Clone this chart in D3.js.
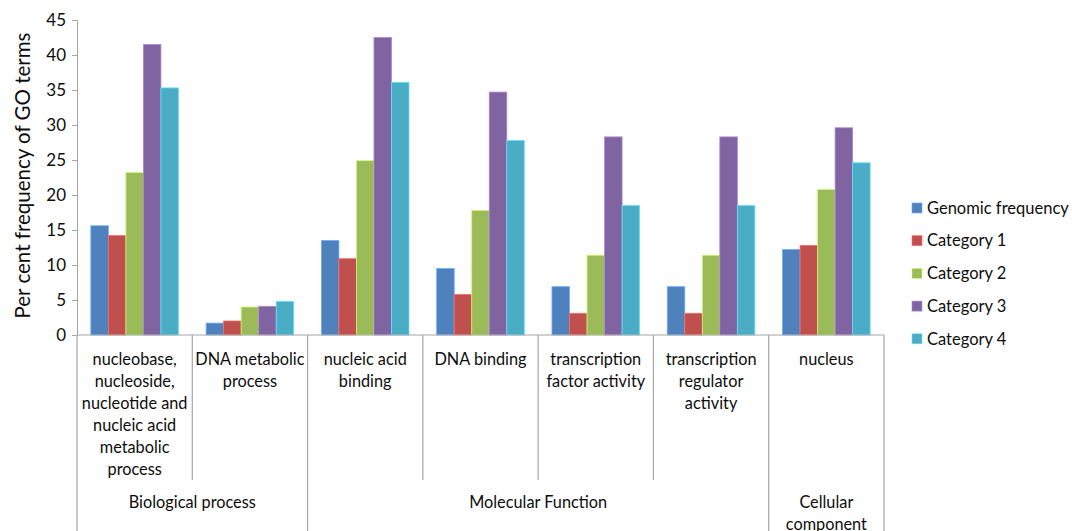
<!DOCTYPE html>
<html>
<head>
<meta charset="utf-8">
<script src="https://cdn.jsdelivr.net/npm/d3@7"></script>
<style>
  html, body { margin: 0; padding: 0; background: #fff; }
  svg text { font-family: Lato, "Open Sans", sans-serif; fill: #0d0d0d; }
</style>
</head>
<body>
<svg id="chart" width="1072" height="531"></svg>
<script>
// GO term categories (multi-line labels) and their parent groups
const categories = [
  ["nucleobase,", "nucleoside,", "nucleotide and", "nucleic acid", "metabolic", "process"],
  ["DNA metabolic", "process"],
  ["nucleic acid", "binding"],
  ["DNA binding"],
  ["transcription", "factor activity"],
  ["transcription", "regulator", "activity"],
  ["nucleus"]
];
const groups = [
  { name: ["Biological process"], from: 0, to: 1 },
  { name: ["Molecular Function"], from: 2, to: 5 },
  { name: ["Cellular", "component"], from: 6, to: 6 }
];
const seriesNames = ["Genomic frequency", "Category 1", "Category 2", "Category 3", "Category 4"];
const seriesColors = ["#4F81BD", "#C0504D", "#9BBB59", "#8064A2", "#4BACC6"];

// per cent frequency, one array per series, in category order
const genomic   = [15.6, 1.7, 13.5, 9.5, 6.9, 6.9, 12.2];
const category1 = [14.2, 2.0, 10.9, 5.8, 3.1, 3.1, 12.8];
const category2 = [23.2, 4.0, 24.9, 17.8, 11.4, 11.4, 20.8];
const category3 = [41.5, 4.1, 42.5, 34.7, 28.3, 28.3, 29.6];
const category4 = [35.3, 4.8, 36.1, 27.8, 18.5, 18.5, 24.6];
const seriesValues = [genomic, category1, category2, category3, category4];

const yTicks = [0, 5, 10, 15, 20, 25, 30, 35, 40, 45];

const svg = d3.select("#chart");
const margin = { left: 77, right: 884, top: 20, bottom: 335 };
const axisColor = "#a6a6a6";

const x = d3.scaleBand()
  .domain(d3.range(categories.length))
  .range([margin.left, margin.right])
  .paddingInner(0.24)
  .paddingOuter(0.12);
const bandStep = x.step();
const catLeft = i => margin.left + i * (margin.right - margin.left) / categories.length;

const xSub = d3.scaleBand()
  .domain(d3.range(seriesNames.length))
  .range([0, x.bandwidth()]);

const y = d3.scaleLinear().domain([0, 45]).range([margin.bottom, margin.top]);

// bars
seriesValues.forEach((vals, s) => {
  svg.append("g")
    .selectAll("rect")
    .data(vals)
    .join("rect")
    .attr("x", (d, i) => x(i) + xSub(s))
    .attr("y", d => y(d))
    .attr("width", xSub.bandwidth())
    .attr("height", d => y(0) - y(d))
    .attr("fill", seriesColors[s])
    .attr("stroke", d3.color(seriesColors[s]).brighter(0.8))
    .attr("stroke-width", 0.8);
});

// y axis
const yAxis = d3.axisLeft(y).tickValues(yTicks).tickSize(5).tickPadding(6);
const gy = svg.append("g").attr("transform", `translate(${margin.left},0)`).call(yAxis);
gy.select(".domain").attr("stroke", axisColor);
gy.selectAll(".tick line").attr("stroke", axisColor);
gy.selectAll(".tick text")
  .attr("font-size", 17)
  .style("font-family", "Lato, 'Open Sans', sans-serif")
  .attr("fill", "#0d0d0d");

svg.append("text")
  .attr("transform", `translate(30,${(margin.top + margin.bottom) / 2 - 2}) rotate(-90)`)
  .attr("text-anchor", "middle")
  .attr("font-size", 20.5)
  .text("Per cent frequency of GO terms");

// x axis baseline
svg.append("line")
  .attr("x1", margin.left).attr("x2", margin.right)
  .attr("y1", y(0)).attr("y2", y(0))
  .attr("stroke", axisColor).attr("stroke-width", 1.2);

// category dividers: short ones inside groups, long ones at group edges
const groupEdges = new Set();
groups.forEach(g => { groupEdges.add(g.from); groupEdges.add(g.to + 1); });
d3.range(categories.length + 1).forEach(i => {
  svg.append("line")
    .attr("x1", catLeft(i)).attr("x2", catLeft(i))
    .attr("y1", y(0)).attr("y2", groupEdges.has(i) ? 531 : 480)
    .attr("stroke", axisColor).attr("stroke-width", 1.2);
});

// category labels
const lineH = 22;
categories.forEach((lines, i) => {
  const t = svg.append("text")
    .attr("text-anchor", "middle")
    .attr("font-size", 16.3);
  lines.forEach((ln, k) => {
    t.append("tspan")
      .attr("x", catLeft(i) + bandStep / 2)
      .attr("y", 365 + k * lineH)
      .text(ln);
  });
});

// group labels
groups.forEach(g => {
  const cx = (catLeft(g.from) + catLeft(g.to + 1)) / 2;
  const t = svg.append("text").attr("text-anchor", "middle").attr("font-size", 16.3);
  g.name.forEach((ln, k) => {
    t.append("tspan").attr("x", cx).attr("y", 508 + k * lineH).text(ln);
  });
});

// legend
const legend = svg.append("g").attr("transform", "translate(912,208)");
seriesNames.forEach((name, s) => {
  const row = legend.append("g").attr("transform", `translate(0,${s * 32.7})`);
  row.append("rect")
    .attr("x", 0).attr("y", -5).attr("width", 10).attr("height", 10)
    .attr("fill", seriesColors[s])
    .attr("stroke", d3.color(seriesColors[s]).brighter(0.8))
    .attr("stroke-width", 0.6);
  row.append("text")
    .attr("x", 15).attr("y", 0).attr("dy", "0.35em")
    .attr("font-size", 16.5)
    .text(name);
});
</script>
</body>
</html>
